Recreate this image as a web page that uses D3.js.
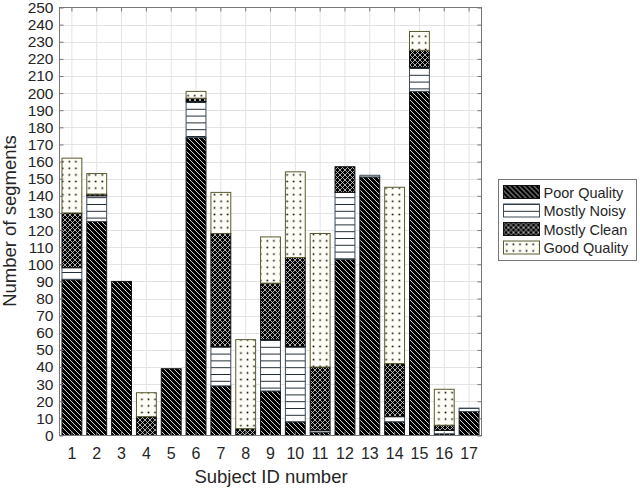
<!DOCTYPE html>
<html>
<head>
<meta charset="utf-8">
<title>Segments per subject</title>
<script src="https://cdn.jsdelivr.net/npm/d3@7"></script>
<style>
    html, body { margin: 0; background: #fff; }
    svg text { font-family: "Liberation Sans", Arial, Helvetica, sans-serif; fill: #262626; }
</style>
</head>
<body>
<svg></svg>
<script>
// data
var subjects = ['1','2','3','4','5','6','7','8','9','10','11','12','13','14','15','16','17'];
var poor   = [ 91, 125, 90,  0, 39, 174, 29,  0, 26,  8,  2, 103, 151,   8, 201,  1, 14];
var noisy  = [  7,  15,  0,  0,  0,  21, 23,  0, 30, 44,  1,  39,   1,   3,  14,  2,  2];
var clean  = [ 32,   1,  0, 11,  0,   2, 66,  4, 33, 52, 37,  15,   0,  31,  10,  3,  0];
var good   = [ 32,  12,  0, 14,  0,   4, 24, 52, 27, 50, 78,   0,   0, 103,  11, 21,  0];
var seriesNames = ['Poor Quality', 'Mostly Noisy', 'Mostly Clean', 'Good Quality'];
var yTicks = d3.range(0, 251, 10);

(function () {
    var w = 640, h = 490,
        m = { left: 59.5, right: 481.5, top: 7.5, bottom: 435.5 };

    var svg = d3.select('svg').attr('width', w).attr('height', h);
    var defs = svg.append('defs');

    // hatch patterns
    var p = defs.append('pattern').attr('id', 'pPoor').attr('patternUnits', 'userSpaceOnUse')
        .attr('width', 5).attr('height', 5);
    p.append('rect').attr('width', 5).attr('height', 5).attr('fill', '#000');
    p.append('path').attr('d', 'M-1,-1L6,6M-1,4L1,6M4,-1L6,1')
        .attr('stroke', '#e8e8e8').attr('stroke-width', 0.9);

    p = defs.append('pattern').attr('id', 'pNoisy').attr('patternUnits', 'userSpaceOnUse')
        .attr('width', 8).attr('height', 6.8);
    p.append('rect').attr('width', 8).attr('height', 6.8).attr('fill', '#fff');
    p.append('path').attr('d', 'M0,0.5H8').attr('stroke', '#1e2a33').attr('stroke-width', 1);

    p = defs.append('pattern').attr('id', 'pClean').attr('patternUnits', 'userSpaceOnUse')
        .attr('width', 5).attr('height', 5);
    p.append('rect').attr('width', 5).attr('height', 5).attr('fill', '#000');
    p.append('path').attr('d', 'M0,0L5,5M5,0L0,5')
        .attr('stroke', '#d8d8d8').attr('stroke-width', 0.8);

    p = defs.append('pattern').attr('id', 'pGood').attr('patternUnits', 'userSpaceOnUse')
        .attr('width', 6.6).attr('height', 6.6);
    p.append('rect').attr('width', 6.6).attr('height', 6.6).attr('fill', '#fffff8');
    p.append('rect').attr('x', 2.5).attr('y', 2.5).attr('width', 1.6).attr('height', 1.6).attr('fill', '#000');

    var fills = ['url(#pPoor)', 'url(#pNoisy)', 'url(#pClean)', 'url(#pGood)'],
        edges = ['#111', '#3c4a55', '#111', '#5a5a30'];

    var x = d3.scaleBand().domain(subjects).range([m.left, m.right])
        .paddingInner(0.2).paddingOuter(0.1);
    var y = d3.scaleLinear().domain([0, 250]).range([m.bottom, m.top]);

    // grid
    var grid = svg.append('g').attr('stroke', '#e3e3e3').attr('stroke-width', 1);
    grid.selectAll('.gy').data(yTicks.slice(1, -1)).enter().append('line')
        .attr('x1', m.left).attr('x2', m.right)
        .attr('y1', function (d) { return Math.round(y(d)) + 0.5; })
        .attr('y2', function (d) { return Math.round(y(d)) + 0.5; });
    grid.selectAll('.gx').data(subjects).enter().append('line')
        .attr('y1', m.top).attr('y2', m.bottom)
        .attr('x1', function (d) { return x(d) + x.bandwidth() / 2; })
        .attr('x2', function (d) { return x(d) + x.bandwidth() / 2; });

    // stacked bars
    var rows = subjects.map(function (s, i) {
        return { id: s, poor: poor[i], noisy: noisy[i], clean: clean[i], good: good[i] };
    });
    var stack = d3.stack().keys(['poor', 'noisy', 'clean', 'good'])(rows);

    svg.append('g').selectAll('g').data(stack).enter().append('g')
        .attr('fill', function (d, i) { return fills[i]; })
        .attr('stroke', function (d, i) { return edges[i]; })
        .attr('stroke-width', 1)
        .selectAll('rect').data(function (d) { return d.filter(function (v) { return v[1] > v[0]; }); })
        .enter().append('rect')
        .attr('x', function (d) { return x(d.data.id); })
        .attr('width', x.bandwidth())
        .attr('y', function (d) { return y(d[1]); })
        .attr('height', function (d) { return y(d[0]) - y(d[1]); });

    // axes (box with inward ticks)
    var ax = svg.append('g');
    var yl = ax.append('g').attr('transform', 'translate(' + m.left + ',0)')
        .call(d3.axisLeft(y).tickValues(yTicks).tickSizeInner(-4).tickSizeOuter(0).tickPadding(6));
    var yr = ax.append('g').attr('transform', 'translate(' + m.right + ',0)')
        .call(d3.axisRight(y).tickValues(yTicks).tickSizeInner(-4).tickSizeOuter(0).tickFormat(''));
    var xb = ax.append('g').attr('transform', 'translate(0,' + m.bottom + ')')
        .call(d3.axisBottom(x).tickSizeInner(-4).tickSizeOuter(0).tickPadding(12));
    var xt = ax.append('g').attr('transform', 'translate(0,' + m.top + ')')
        .call(d3.axisTop(x).tickSizeInner(-4).tickSizeOuter(0).tickFormat(''));
    ax.selectAll('.tick line').attr('stroke', '#777');
    ax.selectAll('.tick text').style('fill', '#262626');
    yl.selectAll('.tick text').attr('font-size', 15.5);
    xb.selectAll('.tick text').attr('font-size', 16);
    ax.selectAll('.domain').remove();
    ax.append('rect').attr('x', m.left).attr('y', m.top)
        .attr('width', m.right - m.left).attr('height', m.bottom - m.top)
        .attr('fill', 'none').attr('stroke', '#777');

    // axis titles
    svg.append('text').attr('x', 271).attr('y', 483).attr('text-anchor', 'middle')
        .attr('font-size', 18.5).text('Subject ID number');
    svg.append('text').attr('transform', 'translate(16,221)rotate(-90)').attr('text-anchor', 'middle')
        .attr('font-size', 18.5).text('Number of segments');

    // legend
    var lg = svg.append('g').attr('transform', 'translate(498.5,179.5)');
    lg.append('rect').attr('width', 138).attr('height', 81)
        .attr('fill', '#fff').attr('stroke', '#777');
    var item = lg.selectAll('.item').data(seriesNames).enter().append('g')
        .attr('transform', function (d, i) { return 'translate(5,' + (6 + i * 18.5) + ')'; });
    item.append('rect').attr('width', 36).attr('height', 13)
        .attr('fill', function (d, i) { return fills[i]; })
        .attr('stroke', function (d, i) { return edges[i]; });
    item.append('text').attr('x', 40).attr('y', 12).attr('font-size', 14.5)
        .text(function (d) { return d; });
})();
</script>
</body>
</html>
